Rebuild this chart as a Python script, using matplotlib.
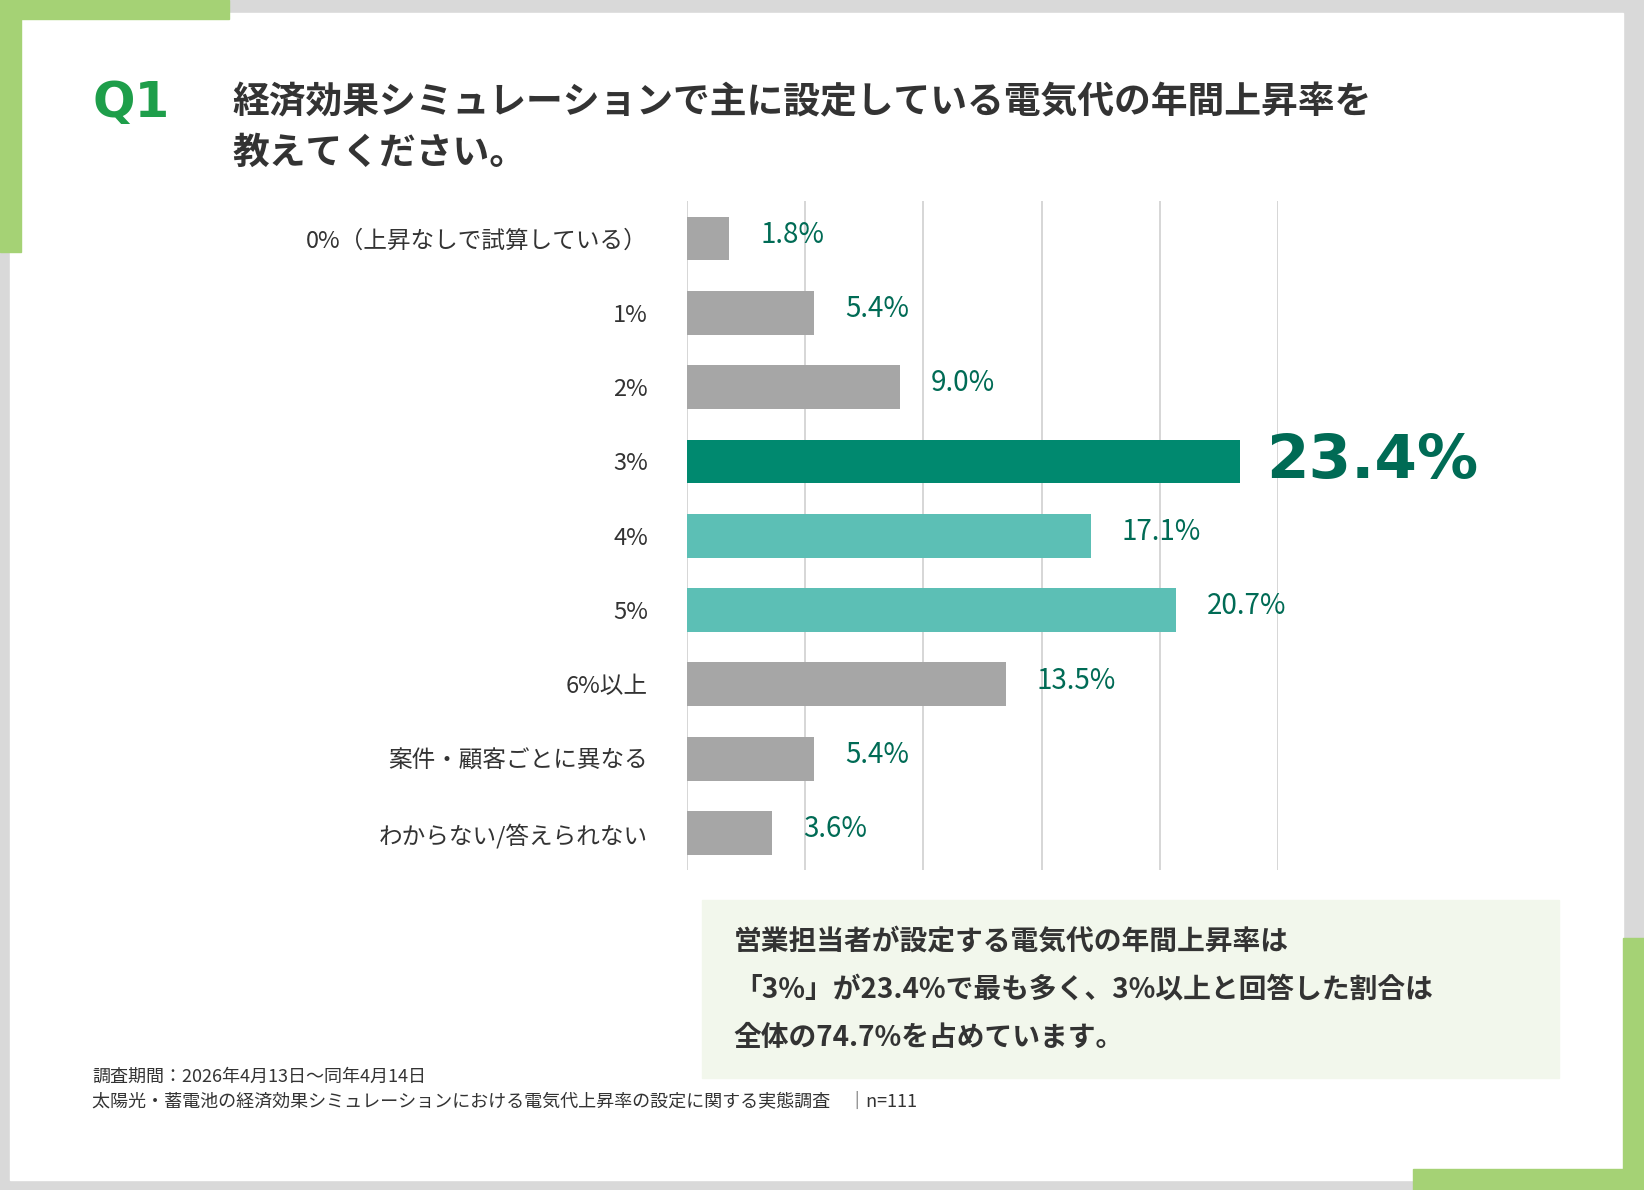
import matplotlib
matplotlib.use("Agg")
import matplotlib.pyplot as plt
from matplotlib.patches import Rectangle

plt.rcParams['font.family'] = ['Noto Sans CJK JP', 'DejaVu Sans']

categories = ["0%（上昇なしで試算している）", "1%", "2%", "3%", "4%", "5%", "6%以上",
              "案件・顧客ごとに異なる", "わからない/答えられない"]
values = [1.8, 5.4, 9.0, 23.4, 17.1, 20.7, 13.5, 5.4, 3.6]
colors = ["#A6A6A6", "#A6A6A6", "#A6A6A6", "#00896F", "#5CBFB5", "#5CBFB5",
          "#A6A6A6", "#A6A6A6", "#A6A6A6"]
xticks = [0, 5, 10, 15, 20, 25]

W, H = 1568, 1135
fig = plt.figure(figsize=(16.44, 11.90), dpi=100)
fig.patch.set_facecolor("#D9D9D9")

def rect(x, y, w, h, c):
    fig.patches.append(Rectangle((x / W, 1 - (y + h) / H), w / W, h / H,
                                 transform=fig.transFigure, color=c, zorder=-5))

rect(10, 12, 1538, 1113, "white")
rect(0, 0, 218, 18, "#A5D275")
rect(0, 0, 20, 240, "#A5D275")
rect(1548, 895, 20, 240, "#A5D275")
rect(1348, 1115, 220, 20, "#A5D275")
rect(670, 858, 817, 170, "#F2F7EC")

ax = fig.add_axes([655 / W, 1 - 830 / H, (1219 - 655) / W, (830 - 192) / H])
ax.set_zorder(5)
ax.set_facecolor("none")
y = list(range(len(categories)))
ax.barh(y, values, color=colors, height=0.59, zorder=3)
ax.set_xlim(0, 25)
ax.set_ylim(8.5, -0.5)
ax.set_xticks(xticks)
ax.xaxis.grid(True, color="#D0D0D0", lw=1.2)
ax.set_axisbelow(True)
ax.tick_params(axis='x', length=0, labelbottom=False)
ax.tick_params(axis='y', length=0, pad=28, labelsize=17)
ax.set_yticks(y)
ax.set_yticklabels(categories, color="#333333")
for s in ax.spines.values():
    s.set_visible(False)
for i, v in enumerate(values):
    if i == 3:
        ax.text(v + 1.1, i, f"{v:.1f}%", va="center", ha="left", fontsize=44,
                fontweight="bold", color="#006B55", family=["DejaVu Sans"], clip_on=False)
    else:
        ax.text(v + 1.3, i - 0.05, f"{v:.1f}%", va="center", ha="left", fontsize=20,
                color="#006B55", clip_on=False)

fig.text(88 / W, 1 - 98 / H, "Q1", fontsize=36, fontweight="bold", color="#1E9E4A",
         va="center", family=["DejaVu Sans"])
fig.text(222 / W, 1 - 98 / H, "経済効果シミュレーションで主に設定している電気代の年間上昇率を",
         fontsize=26.5, fontweight="bold", color="#333333", va="center")
fig.text(222 / W, 1 - 146 / H, "教えてください。",
         fontsize=26.5, fontweight="bold", color="#333333", va="center")

summary = ["営業担当者が設定する電気代の年間上昇率は",
           "「3%」が23.4%で最も多く、3%以上と回答した割合は",
           "全体の74.7%を占めています。"]
for k, line in enumerate(summary):
    fig.text(700 / W, 1 - (898 + 46 * k) / H, line, fontsize=20, fontweight="bold",
             color="#333333", va="center")

fig.text(88 / W, 1 - 1027 / H, "調査期間：2026年4月13日～同年4月14日", fontsize=13,
         color="#333333", va="center")
fig.text(88 / W, 1 - 1051 / H,
         "太陽光・蓄電池の経済効果シミュレーションにおける電気代上昇率の設定に関する実態調査　│n=111",
         fontsize=13, color="#333333", va="center")

fig.savefig("out.png", dpi=100, facecolor=fig.get_facecolor())
